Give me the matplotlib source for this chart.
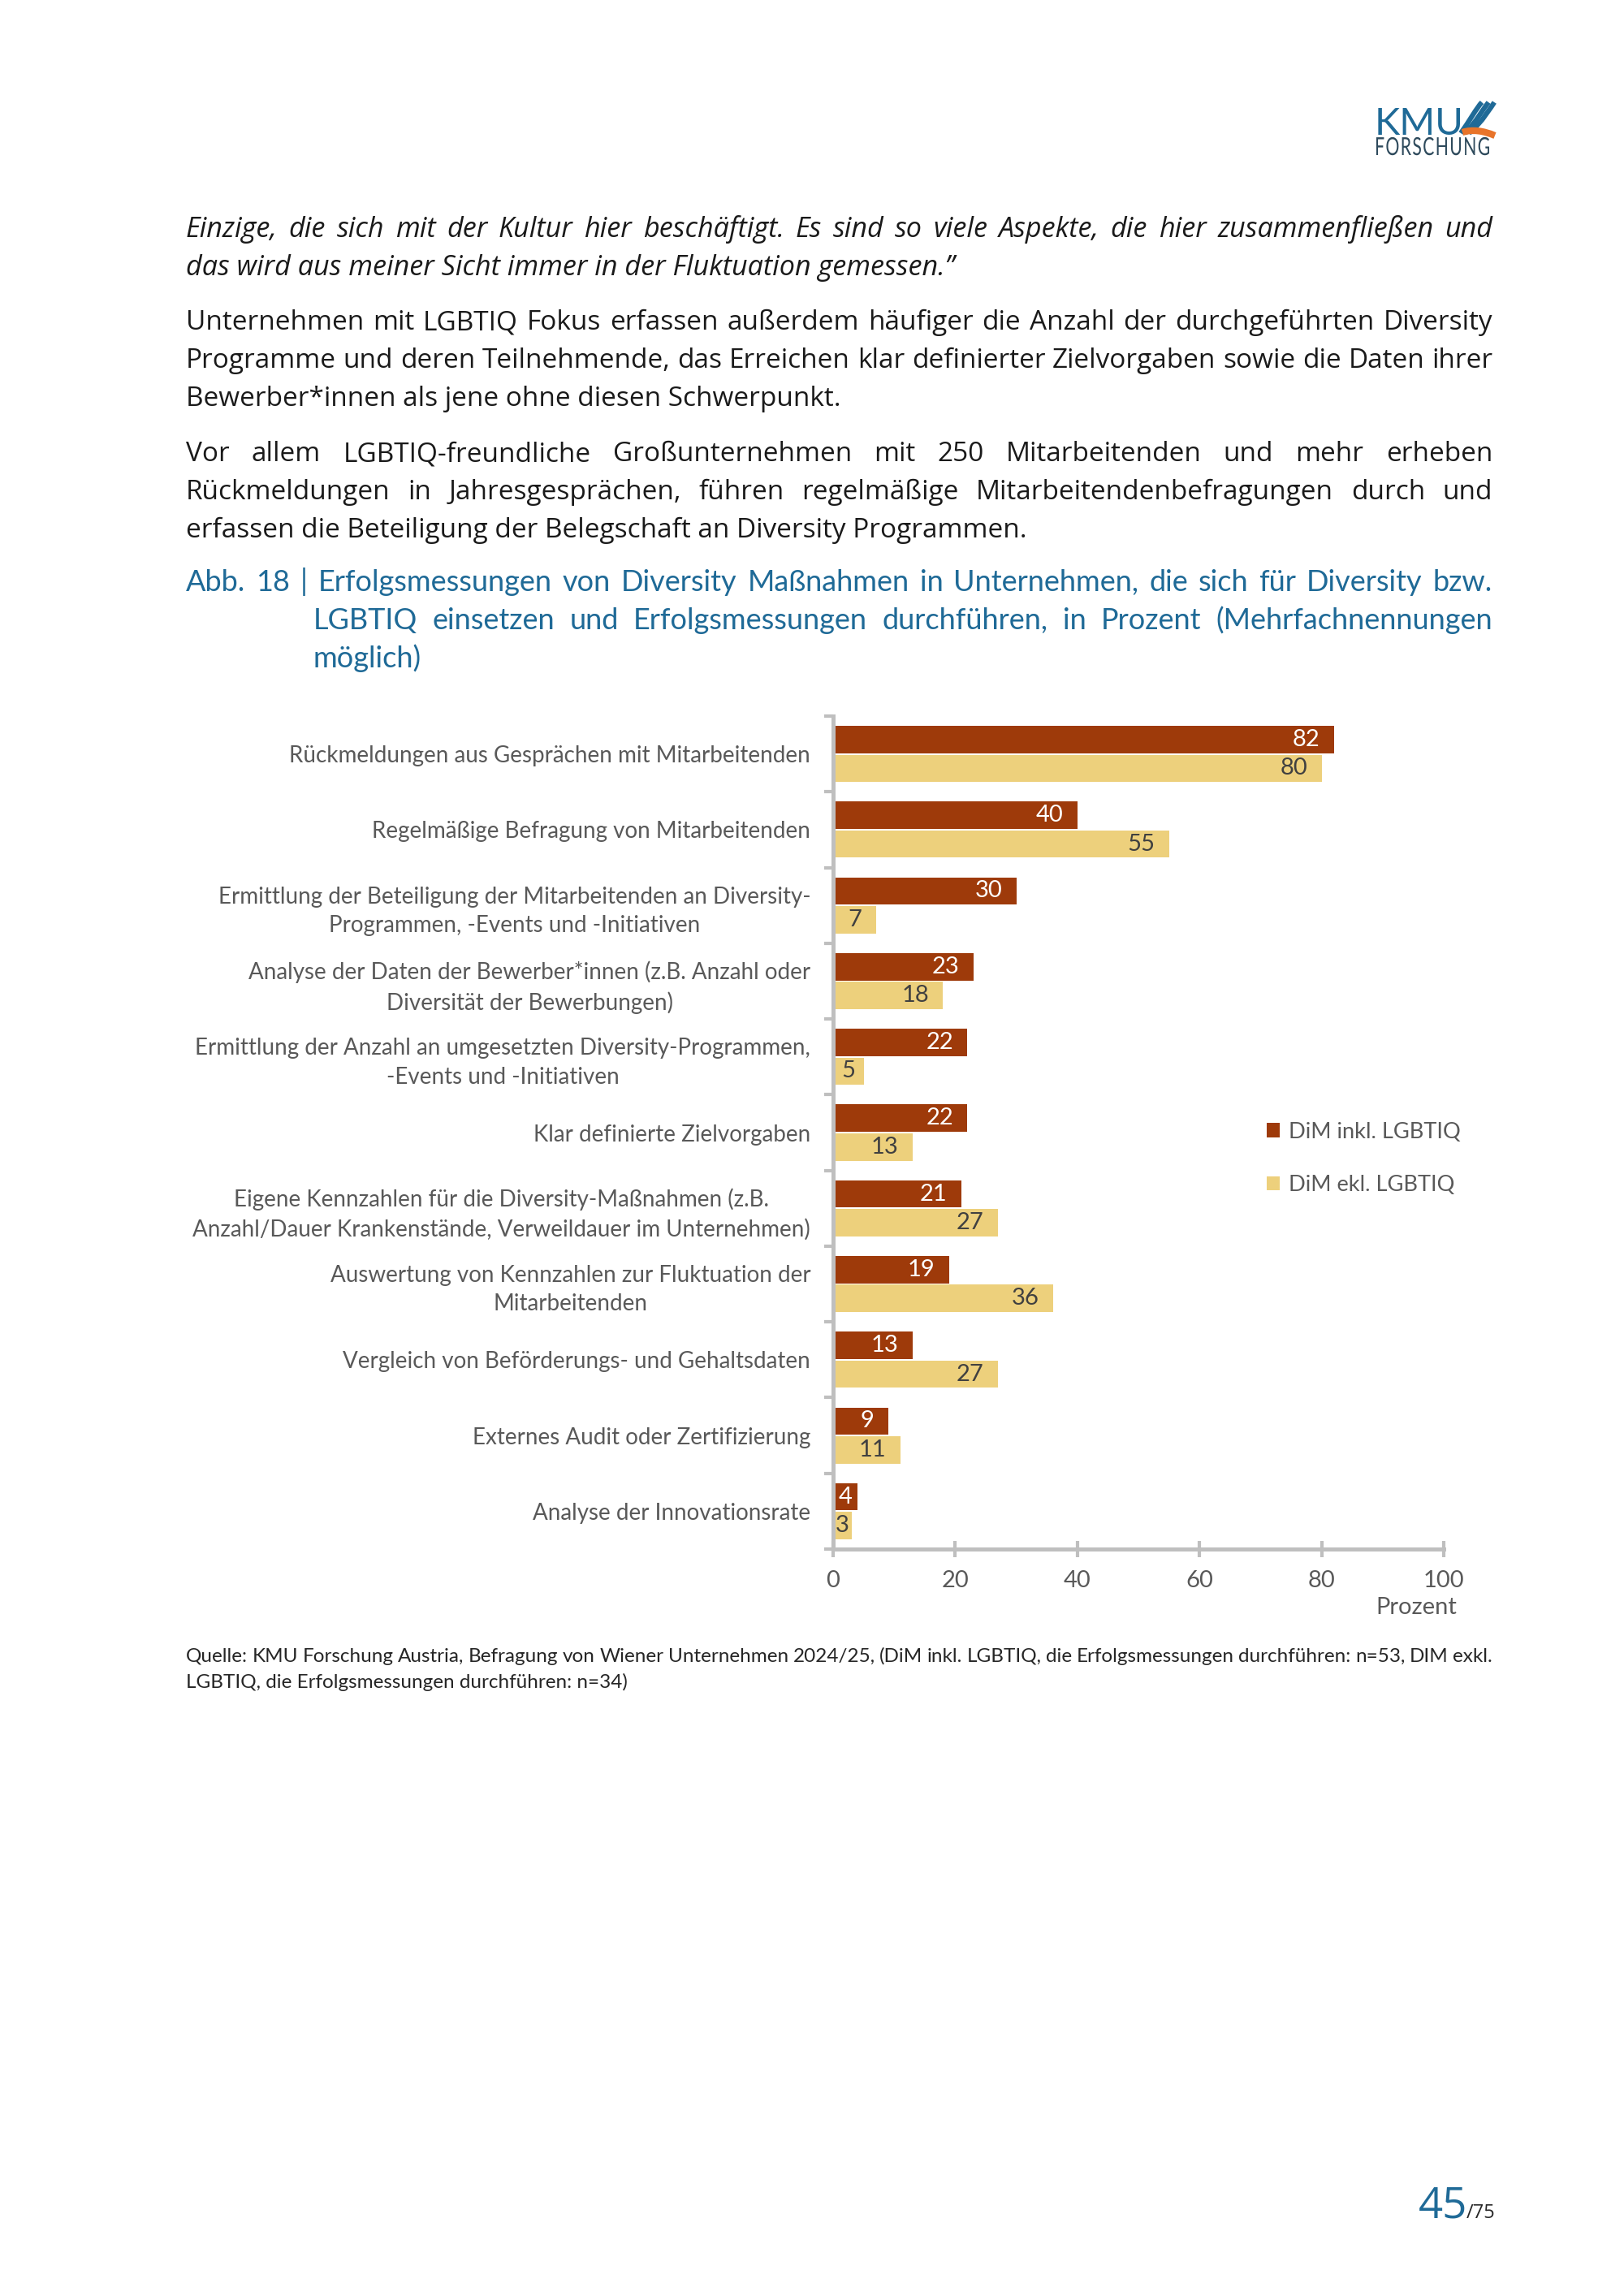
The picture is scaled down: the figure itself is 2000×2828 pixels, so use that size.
import matplotlib
matplotlib.use("Agg")
import matplotlib.pyplot as plt
from matplotlib.path import Path
from matplotlib.patches import PathPatch
from matplotlib.textpath import TextPath
from matplotlib.font_manager import FontProperties
from matplotlib.transforms import Affine2D

# Daten
kategorien = [
    "Rückmeldungen aus Gesprächen mit Mitarbeitenden",
    "Regelmäßige Befragung von Mitarbeitenden",
    "Ermittlung der Beteiligung der Mitarbeitenden an Diversity-\nProgrammen, -Events und -Initiativen",
    "Analyse der Daten der Bewerber*innen (z.B. Anzahl oder\nDiversität der Bewerbungen)",
    "Ermittlung der Anzahl an umgesetzten Diversity-Programmen,\n-Events und -Initiativen",
    "Klar definierte Zielvorgaben",
    "Eigene Kennzahlen für die Diversity-Maßnahmen (z.B.\nAnzahl/Dauer Krankenstände, Verweildauer im Unternehmen)",
    "Auswertung von Kennzahlen zur Fluktuation der\nMitarbeitenden",
    "Vergleich von Beförderungs- und Gehaltsdaten",
    "Externes Audit oder Zertifizierung",
    "Analyse der Innovationsrate",
]
dim_inkl = [82, 40, 30, 23, 22, 22, 21, 19, 13, 9, 4]
dim_ekl = [80, 55, 7, 18, 5, 13, 27, 36, 27, 11, 3]
serien = ["DiM inkl. LGBTIQ", "DiM ekl. LGBTIQ"]
x_ticks = [0, 20, 40, 60, 80, 100]

zitat = [
    "Einzige, die sich mit der Kultur hier beschäftigt. Es sind so viele Aspekte, die hier zusammenfließen und",
    "das wird aus meiner Sicht immer in der Fluktuation gemessen.\u201d",
]
absatz1 = [
    "Unternehmen mit LGBTIQ Fokus erfassen außerdem häufiger die Anzahl der durchgeführten Diversity",
    "Programme und deren Teilnehmende, das Erreichen klar definierter Zielvorgaben sowie die Daten ihrer",
    "Bewerber*innen als jene ohne diesen Schwerpunkt.",
]
absatz2 = [
    "Vor allem LGBTIQ-freundliche Großunternehmen mit 250 Mitarbeitenden und mehr erheben",
    "Rückmeldungen in Jahresgesprächen, führen regelmäßige Mitarbeitendenbefragungen durch und",
    "erfassen die Beteiligung der Belegschaft an Diversity Programmen.",
]
titel = [
    "Abb. 18 | Erfolgsmessungen von Diversity Maßnahmen in Unternehmen, die sich für Diversity bzw.",
    "LGBTIQ einsetzen und Erfolgsmessungen durchführen, in Prozent (Mehrfachnennungen",
    "möglich)",
]
quelle = [
    "Quelle: KMU Forschung Austria, Befragung von Wiener Unternehmen 2024/25, (DiM inkl. LGBTIQ, die Erfolgsmessungen durchführen: n=53, DIM exkl.",
    "LGBTIQ, die Erfolgsmessungen durchführen: n=34)",
]

# Farben
DUNKEL = "#9E3A0A"
HELL = "#EDD07C"
GRAU = "#595959"
ACHSE = "#BFBFBF"
BLAU = "#1F6A97"

W, H = 2000, 2828
fig = plt.figure(figsize=(10, 14.14), dpi=200)
renderer = fig.canvas.get_renderer()


def fy(py):
    return 1 - py / H


def blocksatz(zeilen, baselines, x0, x1, letzte_links=True, **kw):
    for i, zeile in enumerate(zeilen):
        y = fy(baselines[i])
        if letzte_links and i == len(zeilen) - 1:
            fig.text(x0 / W, y, zeile, ha="left", va="baseline", **kw)
            continue
        woerter = zeile.split()
        objs = [fig.text(0, y, w, ha="left", va="baseline", **kw) for w in woerter]
        breiten = [o.get_window_extent(renderer).width for o in objs]
        luecke = max((x1 - x0 - sum(breiten)) / (len(woerter) - 1), 4)
        x = x0
        for o, b in zip(objs, breiten):
            o.set_x(x / W)
            x += b + luecke


# Fliesstext
body = dict(family="Open Sans", color="#1a1a1a")
blocksatz(zitat, [292, 339], 229, 1838, style="italic", fontsize=12.3, **body)
blocksatz(absatz1, [406, 453, 500], 229, 1838, fontsize=12, **body)
blocksatz(absatz2, [568, 615, 662], 229, 1838, fontsize=12, **body)

cap = dict(family="Lato", fontsize=13.0, color=BLAU)
blocksatz(titel[:1], [728], 229, 1838, letzte_links=False, **cap)
blocksatz(titel[1:], [775, 822], 386, 1838, **cap)

blocksatz(quelle, [2047, 2079], 229, 1838, family="Lato", fontsize=8.75, color="#262626")

# Logo
fig.text(1693 / W, fy(166), "KMU", family="Lato", fontsize=17, color=BLAU, va="baseline")
pax = fig.add_axes([0, 0, 1, 1], zorder=-1)
pax.set_xlim(0, W)
pax.set_ylim(0, H)
pax.axis("off")
tp = TextPath((0, 0), "F O R S C H U N G".replace(" ", "\u200a"), size=100,
              prop=FontProperties(family="Lato"))
ext = tp.get_extents()
sx = (1834 - 1695) / ext.width
sy = 22 / 72.0
tp = Affine2D().translate(-ext.x0, 0).scale(sx, sy).translate(1695, H - 191).transform_path(tp)
pax.add_patch(PathPatch(tp, color="#2E4A5C", lw=0))

lax = fig.add_axes([1795 / W, fy(172), 48 / W, 50 / H])
lax.set_xlim(0, 48)
lax.set_ylim(0, 50)
lax.axis("off")
for dx in (0, 9, 17):
    p = Path([(4 + dx * 0.6, 8), (14 + dx, 22), (24 + dx, 40), (30 + dx * 0.9, 46)],
             [Path.MOVETO, Path.CURVE4, Path.CURVE4, Path.CURVE4])
    lax.add_patch(PathPatch(p, fill=False, lw=2.2, color=BLAU))
p = Path([(6, 9), (18, 13), (32, 11), (46, 5)], [Path.MOVETO, Path.CURVE4, Path.CURVE4, Path.CURVE4])
lax.add_patch(PathPatch(p, fill=False, lw=3, color="#E8742A"))

# Seitenzahl
fig.text(1747 / W, fy(2732), "45", family="Open Sans", fontsize=19, color=BLAU, va="baseline")
fig.text(1806 / W, fy(2732), "/75", family="Open Sans", fontsize=8.5, color="#262626", va="baseline")

# Diagramm
ax = fig.add_axes([1026 / W, fy(1908), 752 / W, (1908 - 882) / H])
pos = list(range(len(kategorien)))
b1 = ax.barh([p - 0.19 for p in pos], dim_inkl, height=0.36, color=DUNKEL, label=serien[0])
b2 = ax.barh([p + 0.19 for p in pos], dim_ekl, height=0.36, color=HELL, label=serien[1])

for bars, werte, farbe in ((b1, dim_inkl, "white"), (b2, dim_ekl, "#404040")):
    for rect, v in zip(bars, werte):
        yc = rect.get_y() + rect.get_height() / 2
        if v <= 5:
            ax.text(v / 2, yc, str(v), ha="center", va="center", color=farbe,
                    family="Lato", fontsize=10.5)
        else:
            ax.text(v - 2.3, yc, str(v), ha="right", va="center", color=farbe,
                    family="Lato", fontsize=10.5)

ax.set_xlim(0, 100)
ax.set_ylim(len(kategorien) - 0.5, -0.5)
ax.set_yticks(pos)
ax.set_yticklabels(kategorien, family="Lato", fontsize=10, color=GRAU,
                   multialignment="center", linespacing=1.45)
ax.set_yticks([p - 0.5 for p in pos] + [len(pos) - 0.5], minor=True)
ax.tick_params(axis="y", which="major", length=0, pad=10)
ax.tick_params(axis="y", which="minor", length=4, width=1.5, color=ACHSE)
ax.set_xticks(x_ticks)
ax.set_xticklabels([str(t) for t in x_ticks], family="Lato", fontsize=10.5, color=GRAU)
ax.tick_params(axis="x", direction="inout", length=7, width=1.5, color=ACHSE, pad=6)
for s in ("top", "right"):
    ax.spines[s].set_visible(False)
for s in ("left", "bottom"):
    ax.spines[s].set_color(ACHSE)
    ax.spines[s].set_linewidth(1.8)
ax.text(1.022, -0.07, "Prozent", transform=ax.transAxes, ha="right", va="center",
        family="Lato", fontsize=10.5, color=GRAU)

leg = ax.legend(handles=[b1, b2], labels=serien, frameon=False, loc="center left",
                bbox_to_anchor=(1535 / W, fy(1427)), bbox_transform=fig.transFigure,
                handlelength=0.6, handleheight=0.6, handletextpad=0.4, labelspacing=1.5,
                prop=dict(family="Lato", size=9.8))
for t in leg.get_texts():
    t.set_color(GRAU)

fig.savefig("out.png", dpi=200, facecolor="white")
